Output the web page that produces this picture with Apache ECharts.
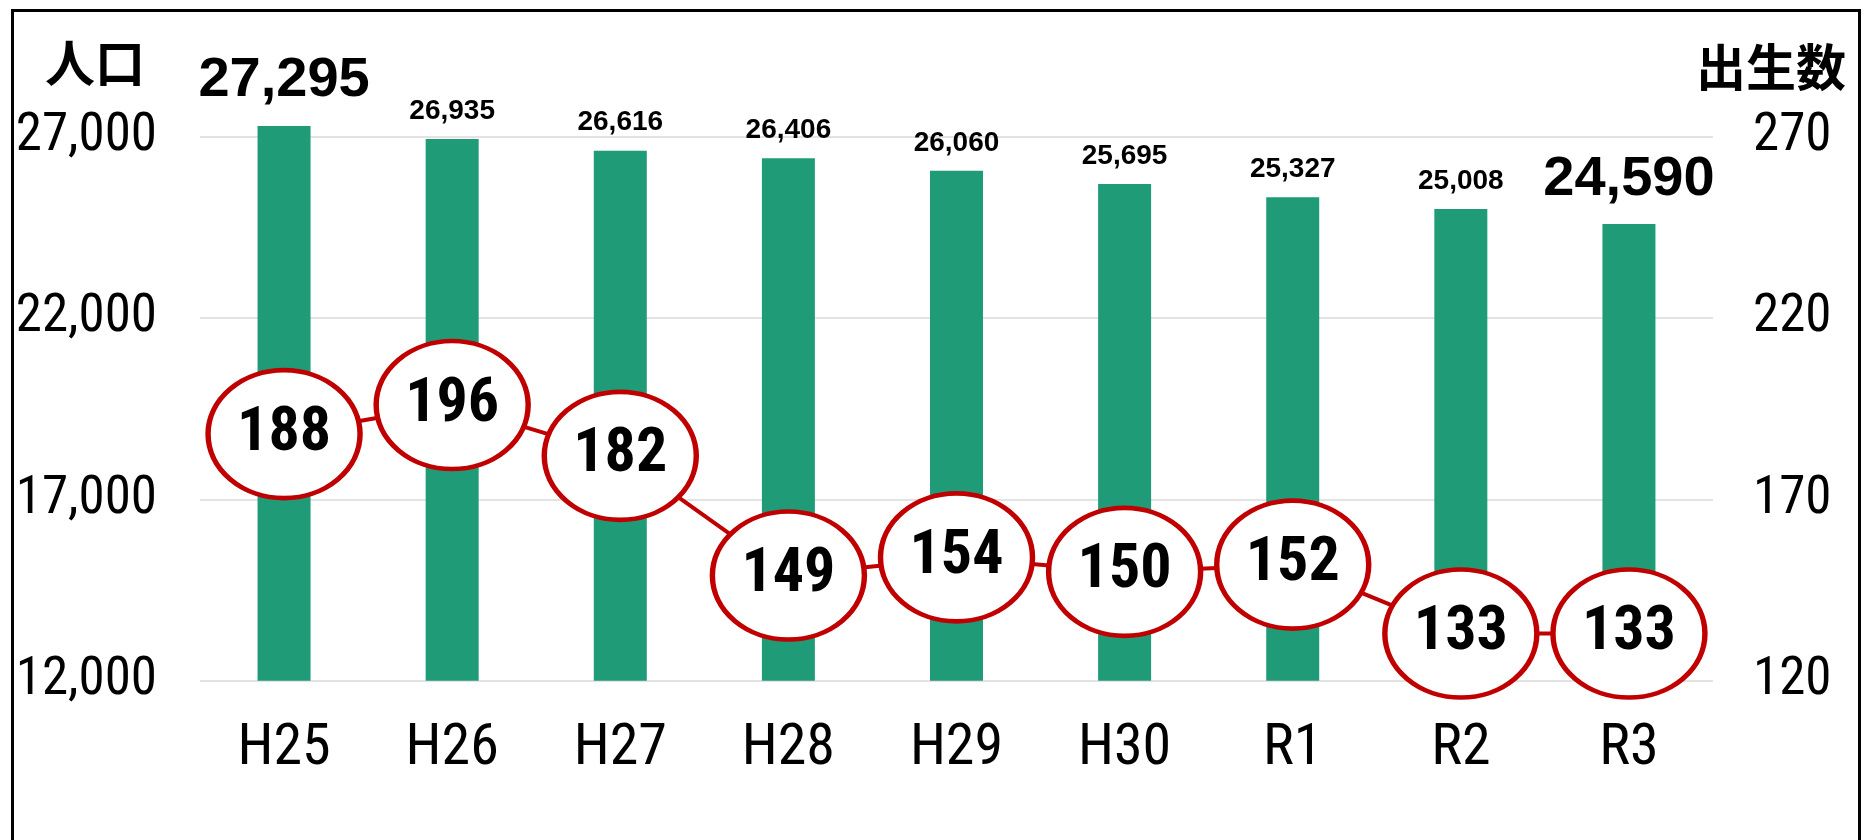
<!DOCTYPE html>
<html>
<head>
<meta charset="utf-8">
<script src="https://cdn.jsdelivr.net/npm/echarts@6/dist/echarts.min.js"></script>
<style>
html,body{margin:0;padding:0;background:#fff;}
#chart{width:1875px;height:840px;}
</style>
</head>
<body>
<div id="chart"></div>
<script>
const categories = ['H25','H26','H27','H28','H29','H30','R1','R2','R3'];
const population = [27295, 26935, 26616, 26406, 26060, 25695, 25327, 25008, 24590];
const births = [188, 196, 182, 149, 154, 150, 152, 133, 133];
// visible ticks: 12,000 / 17,000 / 22,000 / 27,000 and 120 / 170 / 220 / 270
const leftTicks = {min: 12000, max: 27000, interval: 5000, headroom: 300};
const rightTicks = {min: 120, max: 270, interval: 50, headroom: 3};
const leftTitle = '人口';
const rightTitle = '出生数';

const fmt = v => String(v).replace(/\B(?=(\d{3})+(?!\d))/g, ',');
const narrow = '"Roboto Condensed", "DejaVu Sans Condensed", sans-serif';
const bold = '"Liberation Sans", Arial, sans-serif';
const cjk = '"Noto Sans CJK JP", sans-serif';

const barData = population.map((v, i) => {
  const big = (i === 0 || i === population.length - 1);
  return {
    value: v,
    label: big ? {fontSize: 56, lineHeight: 56, distance: 17} : {fontSize: 28, lineHeight: 28, distance: 14}
  };
});

// grid: 27,000 line at y=136.7, 12,000 line at y=680.7 -> 544px per 15,000
const pxPerUnit = 544 / (leftTicks.max - leftTicks.min);
const gridTop = 136.7 - leftTicks.headroom * pxPerUnit;

const chart = echarts.init(document.getElementById('chart'), null, {renderer: 'canvas'});
chart.setOption({
  animation: false,
  backgroundColor: '#fff',
  title: [
    {text: leftTitle, left: 40, top: 33, textStyle: {fontFamily: cjk, fontSize: 50, fontWeight: 'bold', color: '#000'}},
    {text: rightTitle, right: 24, top: 37, textStyle: {fontFamily: cjk, fontSize: 50, fontWeight: 'bold', color: '#000'}}
  ],
  graphic: [{
    type: 'rect', left: 10, top: 8, shape: {x: 0, y: 0, width: 1847, height: 845},
    style: {fill: 'none', stroke: '#000', lineWidth: 3}, silent: true, z: 100
  }],
  grid: {left: 200, right: 162, top: gridTop, bottom: 159.3},
  xAxis: {
    type: 'category',
    data: categories,
    axisLine: {show: false},
    axisTick: {show: false},
    axisLabel: {fontFamily: narrow, fontSize: 58, lineHeight: 58, color: '#000', margin: 40}
  },
  yAxis: [
    {
      type: 'value', min: leftTicks.min, max: leftTicks.max + leftTicks.headroom, interval: leftTicks.interval,
      axisLine: {show: false}, axisTick: {show: false},
      splitLine: {show: true, showMaxLine: false, lineStyle: {color: '#e3e3e3', width: 2}},
      axisLabel: {fontFamily: narrow, fontSize: 53, color: '#000', margin: 43, showMaxLabel: false,
        formatter: v => (v - leftTicks.min) % leftTicks.interval === 0 ? fmt(v) : ''}
    },
    {
      type: 'value', min: rightTicks.min, max: rightTicks.max + rightTicks.headroom, interval: rightTicks.interval,
      axisLine: {show: false}, axisTick: {show: false},
      splitLine: {show: false},
      axisLabel: {fontFamily: narrow, fontSize: 53, color: '#000', margin: 40, showMaxLabel: false,
        formatter: v => (v - rightTicks.min) % rightTicks.interval === 0 ? String(v) : ''}
    }
  ],
  series: [
    {
      type: 'bar',
      data: barData,
      barWidth: 53,
      itemStyle: {color: '#1f9b78'},
      label: {show: true, position: 'top', fontFamily: bold, fontWeight: 'bold', color: '#000', formatter: p => fmt(p.value)}
    },
    {
      type: 'line',
      yAxisIndex: 1,
      data: births,
      clip: false,
      symbol: 'circle',
      symbolSize: [152, 128],
      lineStyle: {color: '#c00000', width: 4},
      itemStyle: {color: '#fff', borderColor: '#c00000', borderWidth: 5},
      label: {show: true, position: 'inside', fontFamily: narrow, fontWeight: 'bold', fontSize: 62, color: '#000'},
      z: 5
    }
  ]
});
</script>
</body>
</html>
